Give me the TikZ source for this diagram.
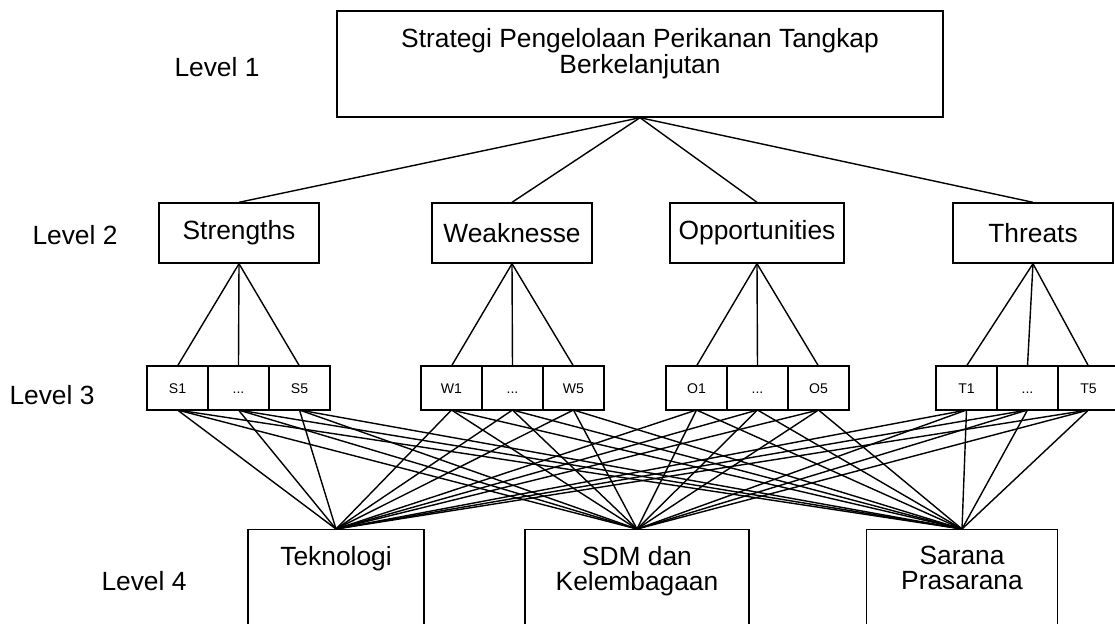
\documentclass[tikz,border=0pt]{standalone}
\usepackage{fontspec}
\setmainfont{Liberation Sans}
\usetikzlibrary{positioning}

\tikzset{
	box/.style={draw, rectangle, line width=0.8pt, inner sep=0pt},
	crit/.style={box, minimum width=3.2cm, minimum height=1.2cm, inner xsep=5pt,
		font=\fontsize{15}{18}\selectfont},
	sub/.style={box, outer sep=0pt, minimum width=1.22cm, minimum height=0.88cm,
		text height=5.8pt, text depth=0pt, font=\fontsize{8}{9}\selectfont},
	alt/.style={box, minimum height=2.4cm, anchor=north},
	lvl/.style={font=\fontsize{15}{18}\selectfont},
	txt/.style={anchor=north, inner sep=0pt, align=center, font=\fontsize{15}{14}\selectfont},
	link/.style={line width=0.8pt},
}

\begin{document}
\begin{tikzpicture}[x=0.02cm, y=-0.02cm]
	\useasboundingbox (0,0) rectangle (1115,623);
	\clip (0,0) rectangle (1115,623);

	% Level 1
	% -------
	\node[box, minimum width=12.12cm, minimum height=2.12cm] (goal) at (640,64) {};
	\node[txt, font=\fontsize{15}{12.5}\selectfont] (goaltext) at (640,28)
		{Strategi Pengelolaan Perikanan Tangkap\\Berkelanjutan};

	% Level 2 (SWOT)
	% --------------
	\node[crit] (str) at (239,233) {Strengths};
	\node[crit] (wea) at (512,233) {Weaknesse};
	\node[crit] (opp) at (757,233) {Opportunities};
	\node[crit] (thr) at (1033,233) {Threats};

	% Level 3 (faktor)
	% ----------------
	\foreach \g/\l/\x in {s/S/177.5, w/W/451.5, o/O/696.5, t/T/966.5} {
		\node[sub] (\g1) at (\x,388) {\l1};
		\node[sub, right=0pt of \g1] (\g-dots) {...};
		\node[sub, right=0pt of \g-dots] (\g5) {\l5};
	}

	% Level 4 (alternatif)
	% --------------------
	\node[alt, minimum width=3.52cm] (tek) at (336,529) {};
	\node[alt, minimum width=4.48cm] (sdm) at (637,529) {};
	\node[alt, minimum width=3.82cm] (sar) at (962,529) {};
	\node[txt] (tektext) at (336,546) {Teknologi};
	\node[txt] (sdmtext) at (637,546) {SDM dan\\Kelembagaan};
	\node[txt] (sartext) at (962,546) {Sarana\\Prasarana};

	% level labels
	\node[lvl] (lv1) at (217,67) {Level 1};
	\node[lvl] (lv2) at (75,235) {Level 2};
	\node[lvl] (lv3) at (52,395) {Level 3};
	\node[lvl] (lv4) at (144,581) {Level 4};

	% garis antar level
	\foreach \c in {str,wea,opp,thr}
		\draw[link] (goal.south) -- (\c.north);
	\foreach \g/\c in {s/str,w/wea,o/opp,t/thr}
		\foreach \k in {1,-dots,5}
			\draw[link] (\c.south) -- (\g\k.north);
	\foreach \g in {s,w,o,t}
		\foreach \k in {1,-dots,5}
			\foreach \a in {tek,sdm,sar}
				\draw[link] (\g\k.south) -- (\a.north);
\end{tikzpicture}
\end{document}
